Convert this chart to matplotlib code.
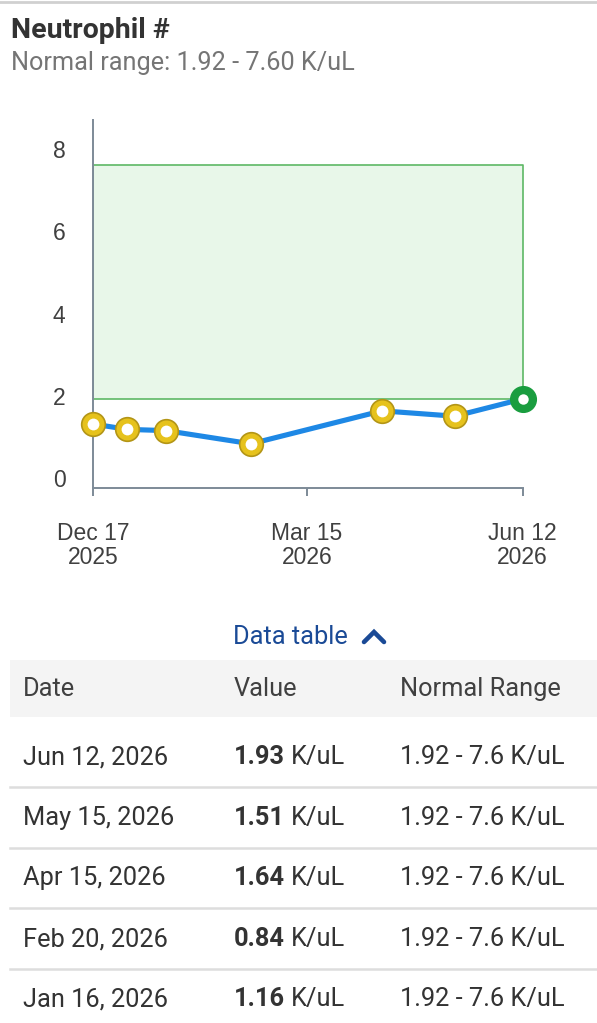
import matplotlib
matplotlib.use("Agg")
import matplotlib.pyplot as plt
import matplotlib.dates as mdates
from matplotlib.lines import Line2D
from matplotlib.patches import Rectangle
from datetime import datetime

# Datos de la serie
fechas = ["2025-12-17", "2025-12-31", "2026-01-16", "2026-02-20",
          "2026-04-15", "2026-05-15", "2026-06-12"]
valores = [1.32, 1.19, 1.16, 0.84, 1.64, 1.51, 1.93]

rango_min, rango_max = 1.92, 7.60
yticks = [0, 2, 4, 6, 8]
xtick_fechas = ["2025-12-17", "2026-03-15", "2026-06-12"]
xtick_labels = ["Dec 17\n2025", "Mar 15\n2026", "Jun 12\n2026"]

# Tabla (filas visibles)
tabla_fechas = ["Jun 12, 2026", "May 15, 2026", "Apr 15, 2026", "Feb 20, 2026", "Jan 16, 2026"]
tabla_valores = ["1.93", "1.51", "1.64", "0.84", "1.16"]
tabla_rango = "1.92 - 7.6 K/uL"

W, H = 597, 1023
fig = plt.figure(figsize=(W / 100, H / 100), dpi=100)

def px(x, y):
    return x / W, 1 - y / H

ui_font = ["Roboto", "DejaVu Sans"]
chart_font = ["Liberation Sans", "DejaVu Sans"]
txt = "#333333"
fs_ui = 18.3

# borde superior de la tarjeta
fig.add_artist(Line2D([0, 1], [1 - 1.5 / H] * 2, color="#d0d0d0", lw=2))

# titulos
fig.text(*px(11, 38), "Neutrophil #", fontsize=20.5, fontweight="bold",
         color=txt, family=ui_font, va="baseline", ha="left")
fig.text(*px(11, 70), "Normal range: 1.92 - 7.60 K/uL", fontsize=18.2,
         color="#757575", family=ui_font, va="baseline", ha="left")

# grafico
x = [mdates.date2num(datetime.strptime(f, "%Y-%m-%d")) for f in fechas]
xt = [mdates.date2num(datetime.strptime(f, "%Y-%m-%d")) for f in xtick_fechas]

left, right, top, bottom = 93.3, 522.7, 120, 488
ax = fig.add_axes([left / W, 1 - bottom / H, (right - left) / W, (bottom - top) / H])
ax.set_xlim(x[0], x[-1])
ax.set_ylim(-0.233, 8.70)

ax.fill_between([x[0], x[-1]], rango_min, rango_max, facecolor="#e8f7e9",
                edgecolor="#5db865", lw=1.2, zorder=1)

ax.plot(x, valores, color="#1e88e5", lw=3.7, zorder=3, solid_capstyle="round")

amarillo_x, amarillo_y = x[:-1], valores[:-1]
ax.plot(amarillo_x, amarillo_y, "o", ms=17, mfc="#e6c21c", mec="#b39516",
        mew=1.2, zorder=4, clip_on=False)
ax.plot(amarillo_x, amarillo_y, "o", ms=8.5, mfc="white", mec="none",
        zorder=5, clip_on=False)
ax.plot(x[-1:], valores[-1:], "o", ms=18.5, mfc="#1a9d3f", mec="#1a9d3f",
        zorder=4, clip_on=False)
ax.plot(x[-1:], valores[-1:], "o", ms=7.5, mfc="white", mec="none",
        zorder=5, clip_on=False)

eje = "#7d8a97"
for s in ["top", "right"]:
    ax.spines[s].set_visible(False)
for s in ["left", "bottom"]:
    ax.spines[s].set_color(eje)
    ax.spines[s].set_linewidth(1.4)

ax.set_yticks(yticks)
ax.set_yticklabels([str(v) for v in yticks], family=chart_font, fontsize=16.5, color="#404040")
ax.tick_params(axis="y", length=0, pad=20)
ax.set_xticks(xt)
ax.set_xticklabels(xtick_labels, family=chart_font, fontsize=16.5, color="#404040",
                   linespacing=1.05)
ax.tick_params(axis="x", length=5.5, width=1.4, color=eje, pad=19)
ax.set_facecolor("none")

# enlace "Data table"
azul = "#1a4a96"
fig.text(*px(233, 637), "Data table", fontsize=fs_ui, color=azul, family=ui_font,
         va="center", ha="left")
cx, cy = 374, 637
fig.add_artist(Line2D([(cx - 10) / W, cx / W, (cx + 10) / W],
                      [1 - (cy + 5) / H, 1 - (cy - 5) / H, 1 - (cy + 5) / H],
                      color=azul, lw=3.3, solid_capstyle="round", solid_joinstyle="miter"))

# cabecera de tabla
x0, y0 = px(10, 717)
fig.add_artist(Rectangle((x0, y0), 1 - x0, 57 / H, transform=fig.transFigure,
                         facecolor="#f4f4f4", edgecolor="none"))
col_x = [23, 234, 400]
for cx_, lab in zip(col_x, ["Date", "Value", "Normal Range"]):
    fig.text(*px(cx_, 689), lab, fontsize=fs_ui, color="#404040", family=ui_font,
             va="center", ha="left")

# filas
fila_y = [757, 818, 878, 939, 999]
renderer = fig.canvas.get_renderer()
for i, (f, v, yy) in enumerate(zip(tabla_fechas, tabla_valores, fila_y)):
    fig.text(*px(col_x[0], yy), f, fontsize=fs_ui, color=txt, family=ui_font,
             va="center", ha="left")
    t = fig.text(*px(col_x[1], yy), v, fontsize=fs_ui, fontweight="bold", color=txt,
                 family=ui_font, va="center", ha="left")
    ancho = t.get_window_extent(renderer).width
    fig.text(*px(col_x[1] + ancho + 6, yy), "K/uL", fontsize=fs_ui, color=txt,
             family=ui_font, va="center", ha="left")
    fig.text(*px(col_x[2], yy), tabla_rango, fontsize=fs_ui, color=txt, family=ui_font,
             va="center", ha="left")
    if i < len(fila_y) - 1:
        ly = 1 - (yy + 30) / H
        fig.add_artist(Line2D([10 / W, 1], [ly, ly], color="#dddddd", lw=1.8))

fig.savefig("out.png", dpi=100)
